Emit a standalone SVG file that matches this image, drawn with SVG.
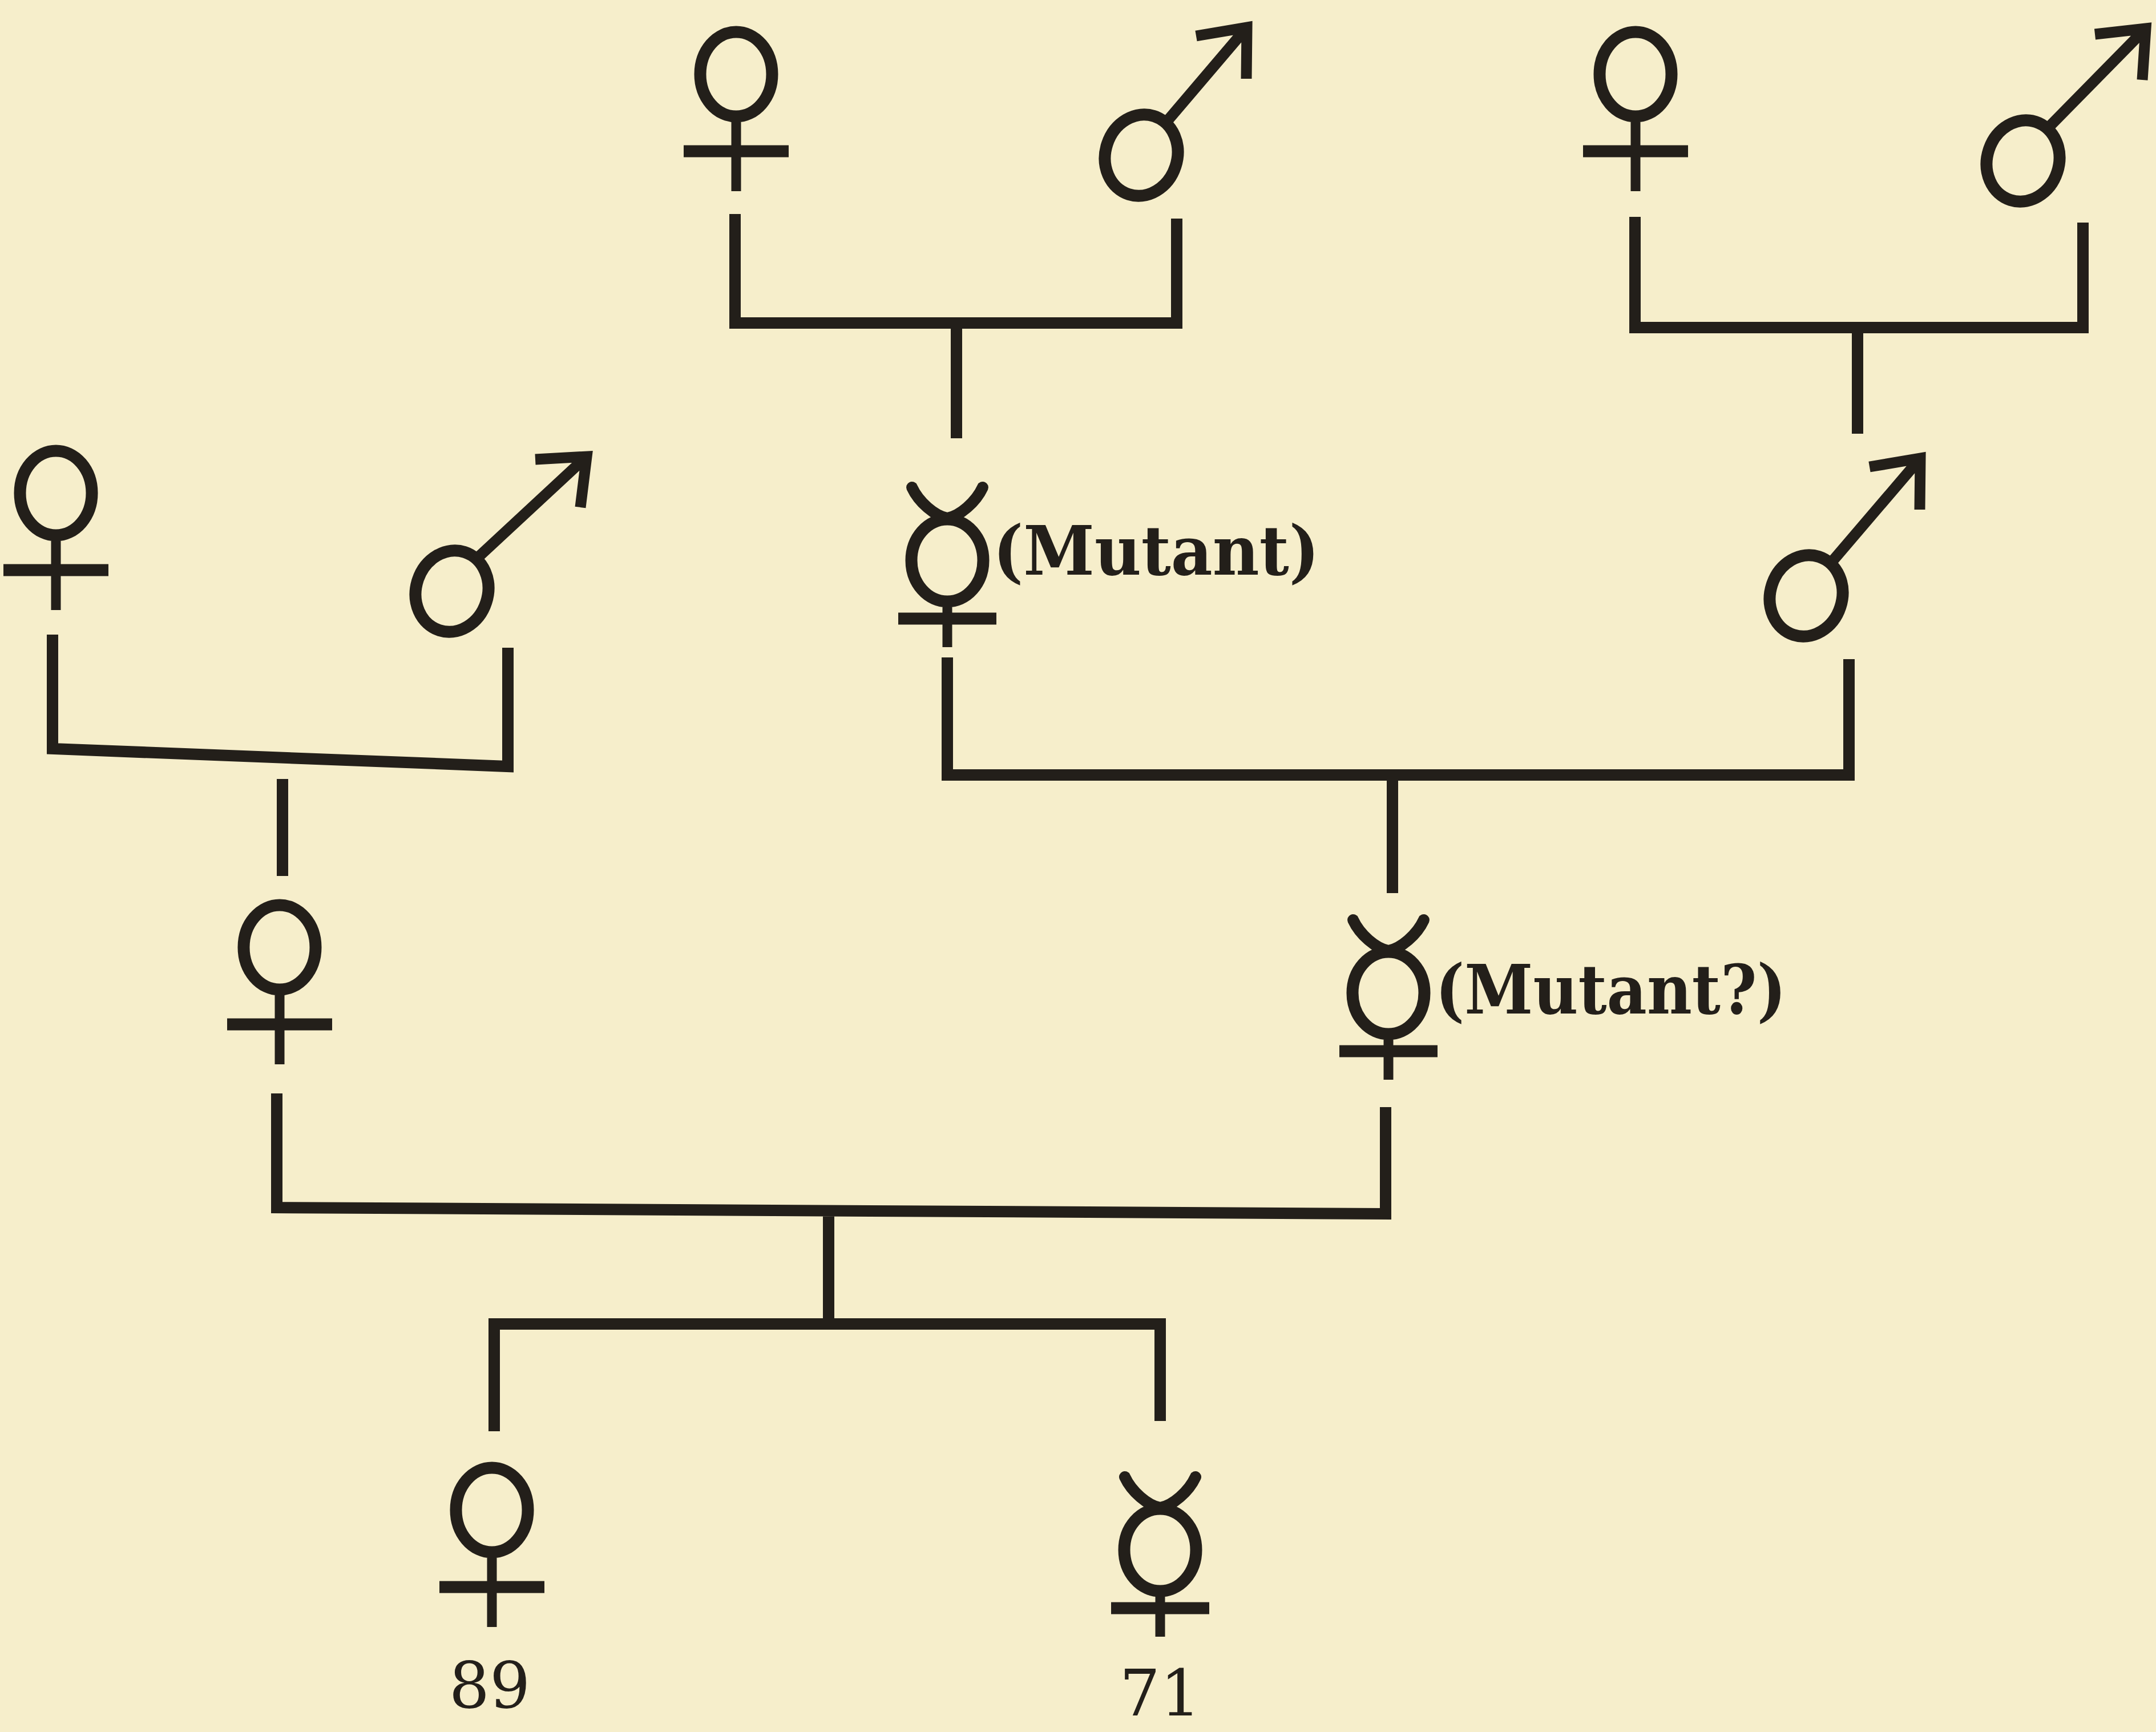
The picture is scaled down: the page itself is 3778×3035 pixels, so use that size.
<svg xmlns="http://www.w3.org/2000/svg" width="3778" height="3035" viewBox="0 0 3778 3035">
<style>
.ring{fill:none;stroke:#231f1a;stroke-width:21}
.bar{fill:none;stroke:#231f1a;stroke-width:21}
.stem{fill:none;stroke:#231f1a;stroke-width:17}
.horn{fill:none;stroke:#231f1a;stroke-width:20;stroke-linecap:round}
.arrow{fill:none;stroke:#231f1a;stroke-width:19;stroke-linejoin:miter}
.conn{fill:none;stroke:#231f1a;stroke-width:20;stroke-linejoin:miter}
.lbl{font-family:"DejaVu Serif","Liberation Serif",serif;font-weight:bold;font-size:120px;fill:#231f1a}
.num{font-family:"DejaVu Serif","Liberation Serif",serif;font-size:112px;fill:#231f1a;text-anchor:middle}
</style>
<defs>
<g id="fem">
<ellipse cx="0" cy="0" rx="63" ry="74" class="ring"/>
<path d="M0,84 V205" class="stem"/>
<path d="M-92,135 H92" class="bar"/>
</g>
<g id="herm">
<ellipse cx="0" cy="0" rx="63" ry="72" class="ring"/>
<path d="M-62,-128 C-50,-102 -22,-78 0,-74 C22,-78 50,-102 62,-128" class="horn"/>
<path d="M0,82 V152" class="stem"/>
<path d="M-86,102 H86" class="bar"/>
</g>
<ellipse id="mring" cx="0" cy="0" rx="63" ry="72" transform="rotate(18)" class="ring"/>
</defs>
<rect x="0" y="0" width="3778" height="3035" fill="#f6eecb"/>
<g id="connectors">
<path class="conn" d="M1288,375 V566 H2062 V383 M1676,566 V768"/>
<path class="conn" d="M2865,380 V574 H3650 V390 M3255,574 V760"/>
<path class="conn" d="M1660,1152 V1358 H3240 V1155 M2440,1358 V1565"/>
<path class="conn" d="M92,1112 V1312 L890,1343 V1135 M495,1365 V1535"/>
<path class="conn" d="M485,1916 V2116 L2428,2127 V1940 M1452,2122 V2322"/>
<path class="conn" d="M866,2508 V2320 H2033 V2490"/>
</g>
<g id="female-top-center"><use href="#fem" x="1290" y="130"/></g>
<g id="male-top-center"><use href="#mring" x="2000" y="272"/><path class="arrow" d="M2042,216 L2185,48 M2096,63 L2185,48 L2184,138"/></g>
<g id="female-top-right"><use href="#fem" x="2866" y="130"/></g>
<g id="male-top-right"><use href="#mring" x="3545" y="282"/><path class="arrow" d="M3587,226 L3760,50 M3671,60 L3760,50 L3754,140"/></g>
<g id="mutant"><use href="#herm" x="1660" y="982"/><text class="lbl" x="1740" y="1007" textLength="572" lengthAdjust="spacingAndGlyphs">(Mutant)</text></g>
<g id="male-middle-right"><use href="#mring" x="3165" y="1044"/><path class="arrow" d="M3207,988 L3365,803 M3276,818 L3365,803 L3364,893"/></g>
<g id="female-left"><use href="#fem" x="98" y="864"/></g>
<g id="male-left"><use href="#mring" x="792" y="1036"/><path class="arrow" d="M834,980 L1028,800 M938,805 L1028,800 L1017,889"/></g>
<g id="female-middle-left"><use href="#fem" x="490" y="1660"/></g>
<g id="mutant-question"><use href="#herm" x="2433" y="1740"/><text class="lbl" x="2515" y="1776" textLength="615" lengthAdjust="spacingAndGlyphs">(Mutant?)</text></g>
<g id="child-female"><use href="#fem" x="862" y="2646"/><text class="num" x="858" y="2992">89</text></g>
<g id="child-mutant"><use href="#herm" x="2033" y="2716"/><text class="num" x="2033" y="3006">71</text></g>
</svg>
